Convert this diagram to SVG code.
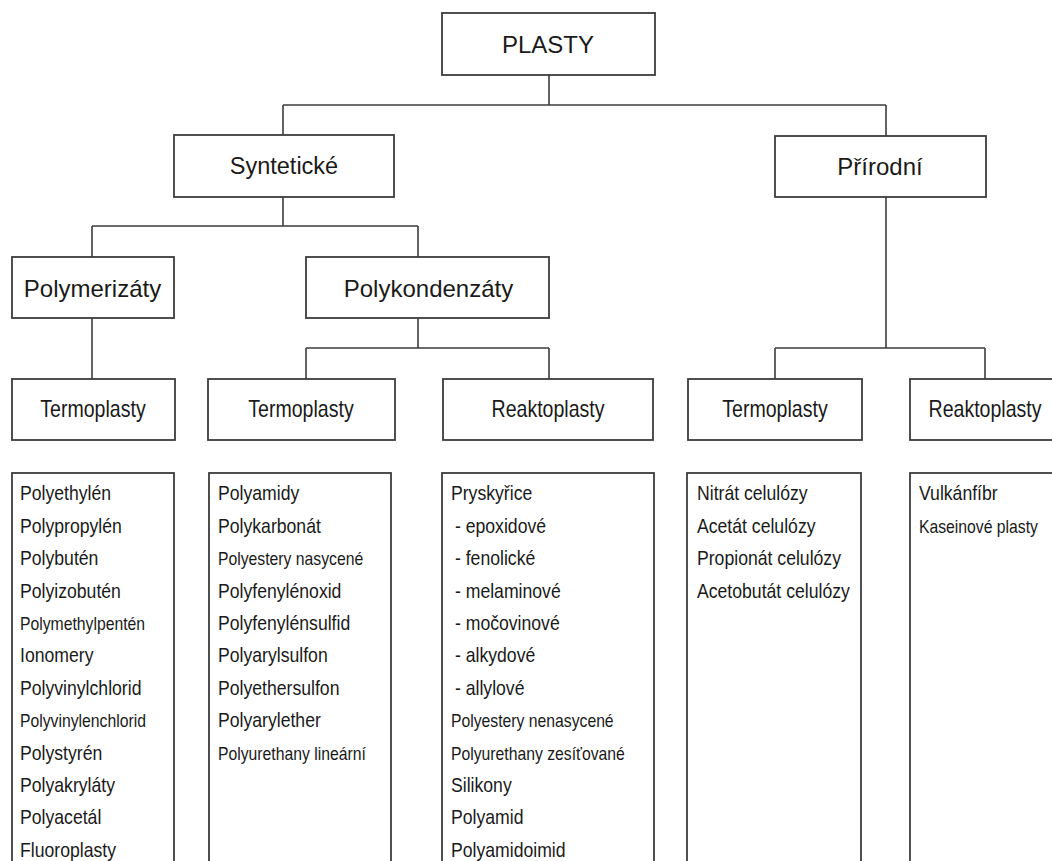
<svg xmlns="http://www.w3.org/2000/svg" width="1052" height="861" viewBox="0 0 1052 861">
<style>
.box{fill:#fff;stroke:#3c3c3c;stroke-width:1.8}
.con{fill:none;stroke:#3c3c3c;stroke-width:1.6}
text{font-family:"Liberation Sans",Arial,sans-serif;fill:#1a1a1a}
.h1{font-size:24px;text-anchor:middle}
.h2{font-size:23px;text-anchor:middle}
.li{font-size:19.6px}
.sm{font-size:17.5px}
</style>
<rect width="1052" height="861" fill="#fff"/>
<g id="connectors">
<path class="con" d="M549,75V105M283,105H886M283,105V135M886,105V136"/>
<path class="con" d="M283,197V226M92,226H418M92,226V257M418,226V257"/>
<path class="con" d="M92,318V379"/>
<path class="con" d="M418,318V348M306,348H549M306,348V379M549,348V379"/>
<path class="con" d="M886,197V348M775,348H985M775,348V379M985,348V379"/>
</g>
<g id="plasty"><rect class="box" x="442" y="13" width="213" height="62"/><text class="h1" x="548" y="53">PLASTY</text></g>
<g id="synteticke"><rect class="box" x="174" y="135" width="220" height="62"/><text class="h1" x="284" y="174" style="font-size:23.5px">Syntetické</text></g>
<g id="prirodni"><rect class="box" x="775" y="136" width="211" height="61"/><text class="h1" x="880" y="175">Přírodní</text></g>
<g id="polymerizaty"><rect class="box" x="12" y="257" width="162" height="61"/><text class="h1" x="92.5" y="297">Polymerizáty</text></g>
<g id="polykondenzaty"><rect class="box" x="306" y="257" width="243" height="61"/><text class="h1" x="428.5" y="297">Polykondenzáty</text></g>
<g id="termoplasty1"><rect class="box" x="12" y="379" width="163" height="61"/><text class="h2" transform="translate(93,416.5) scale(0.85,1)">Termoplasty</text></g>
<g id="termoplasty2"><rect class="box" x="208" y="379" width="187" height="61"/><text class="h2" transform="translate(301,416.5) scale(0.85,1)">Termoplasty</text></g>
<g id="reaktoplasty1"><rect class="box" x="443" y="379" width="210" height="61"/><text class="h2" transform="translate(548,416.5) scale(0.85,1)">Reaktoplasty</text></g>
<g id="termoplasty3"><rect class="box" x="688" y="379" width="174" height="61"/><text class="h2" transform="translate(775,416.5) scale(0.85,1)">Termoplasty</text></g>
<g id="reaktoplasty2"><rect class="box" x="910" y="379" width="152" height="61"/><text class="h2" transform="translate(985,416.5) scale(0.85,1)">Reaktoplasty</text></g>
<g id="list1"><rect class="box" x="12" y="473" width="162" height="400"/>
<g transform="translate(20,0) scale(0.9,1)">
<text class="li" y="500.5">Polyethylén</text>
<text class="li" y="532.9">Polypropylén</text>
<text class="li" y="565.3">Polybutén</text>
<text class="li" y="597.7">Polyizobutén</text>
<text class="sm" y="630.1">Polymethylpentén</text>
<text class="li" y="662.5">Ionomery</text>
<text class="li" y="694.9">Polyvinylchlorid</text>
<text class="sm" y="727.3">Polyvinylenchlorid</text>
<text class="li" y="759.7">Polystyrén</text>
<text class="li" y="792.1">Polyakryláty</text>
<text class="li" y="824.5">Polyacetál</text>
<text class="li" y="856.9">Fluoroplasty</text>
</g></g>
<g id="list2"><rect class="box" x="209" y="473" width="182" height="400"/>
<g transform="translate(218,0) scale(0.9,1)">
<text class="li" y="500.5">Polyamidy</text>
<text class="li" y="532.9">Polykarbonát</text>
<text class="sm" y="565.3">Polyestery nasycené</text>
<text class="li" y="597.7">Polyfenylénoxid</text>
<text class="li" y="630.1">Polyfenylénsulfid</text>
<text class="li" y="662.5">Polyarylsulfon</text>
<text class="li" y="694.9">Polyethersulfon</text>
<text class="li" y="727.3">Polyarylether</text>
<text class="sm" y="759.7">Polyurethany lineární</text>
</g></g>
<g id="list3"><rect class="box" x="442" y="473" width="212" height="400"/>
<g transform="translate(451,0) scale(0.9,1)">
<text class="li" y="500.5">Pryskyřice</text>
<text class="li" x="4.4" y="532.9">- epoxidové</text>
<text class="li" x="4.4" y="565.3">- fenolické</text>
<text class="li" x="4.4" y="597.7">- melaminové</text>
<text class="li" x="4.4" y="630.1">- močovinové</text>
<text class="li" x="4.4" y="662.5">- alkydové</text>
<text class="li" x="4.4" y="694.9">- allylové</text>
<text class="sm" y="727.3">Polyestery nenasycené</text>
<text class="sm" y="759.7">Polyurethany zesíťované</text>
<text class="li" y="792.1">Silikony</text>
<text class="li" y="824.5">Polyamid</text>
<text class="li" y="856.9">Polyamidoimid</text>
</g></g>
<g id="list4"><rect class="box" x="687" y="473" width="174" height="400"/>
<g transform="translate(697,0) scale(0.9,1)">
<text class="li" y="500.5">Nitrát celulózy</text>
<text class="li" y="532.9">Acetát celulózy</text>
<text class="li" y="565.3">Propionát celulózy</text>
<text class="li" y="597.7">Acetobutát celulózy</text>
</g></g>
<g id="list5"><rect class="box" x="910" y="473" width="152" height="400"/>
<g transform="translate(919,0) scale(0.9,1)">
<text class="li" y="500.5">Vulkánfíbr</text>
<text class="sm" y="532.9">Kaseinové plasty</text>
</g></g>
</svg>
